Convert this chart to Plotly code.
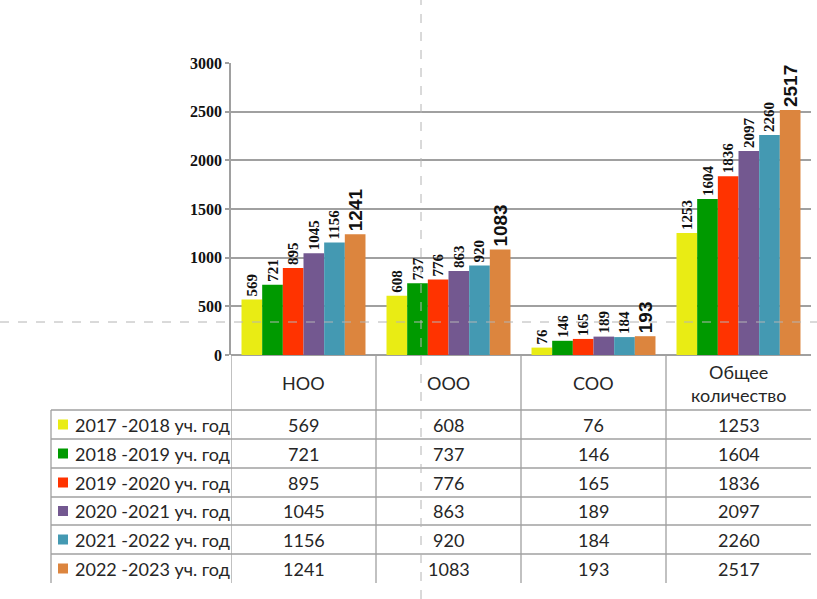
import plotly.graph_objects as go

# ---------------- data ----------------
categories = ["НОО", "ООО", "СОО", "Общее количество"]
header_labels = ["НОО", "ООО", "СОО", "Общее<br>количество"]
series_names = [
    "2017 -2018 уч. год",
    "2018 -2019 уч. год",
    "2019 -2020 уч. год",
    "2020 -2021 уч. год",
    "2021 -2022 уч. год",
    "2022 -2023 уч. год",
]
v2017_2018 = [569, 608, 76, 1253]
v2018_2019 = [721, 737, 146, 1604]
v2019_2020 = [895, 776, 165, 1836]
v2020_2021 = [1045, 863, 189, 2097]
v2021_2022 = [1156, 920, 184, 2260]
v2022_2023 = [1241, 1083, 193, 2517]
series_values = [v2017_2018, v2018_2019, v2019_2020, v2020_2021, v2021_2022, v2022_2023]
colors = ["#E9EC14", "#009A00", "#FF3300", "#735890", "#4499B2", "#DC853E"]
y_ticks = [0, 500, 1000, 1500, 2000, 2500, 3000]

# ---------------- geometry (pixels) ----------------
W, H = 817, 599
PLOT_L, PLOT_R = 231, 811
PLOT_T, PLOT_B = 63, 355
TABLE_L = 51
ROW_EDGES = [410, 439, 468, 497, 525, 554, 583]
GRID = "#A0A0A0"
TXT = "#262626"
TFONT = "Lato"
TSIZE = 18


def px(x):
    return x / W


def py(y):
    return 1 - y / H


fig = go.Figure()
for i, (name, vals) in enumerate(zip(series_names, series_values)):
    last = i == len(series_names) - 1
    fig.add_trace(go.Bar(
        x=categories, y=vals, name=name,
        marker=dict(color=colors[i], line=dict(width=0)),
        text=[str(v) for v in vals], textposition="outside", textangle=-90,
        constraintext="none", cliponaxis=False,
        textfont=dict(
            family="Liberation Sans" if last else "Liberation Serif",
            size=19 if last else 15, weight="bold", color="#111111"),
        hoverinfo="x+y+name",
    ))

shapes = []
annotations = []

# table: horizontal row lines
for y in ROW_EDGES[:-1]:
    shapes.append(dict(type="line", xref="paper", yref="paper",
                       x0=px(TABLE_L), x1=px(PLOT_R), y0=py(y), y1=py(y),
                       line=dict(color=GRID, width=1.3)))
# left border of legend column
shapes.append(dict(type="line", xref="paper", yref="paper",
                   x0=px(TABLE_L), x1=px(TABLE_L), y0=py(ROW_EDGES[0]), y1=py(ROW_EDGES[-1]),
                   line=dict(color=GRID, width=1.3)))
# vertical column separators (category boundaries, via x axis)
for b in [-0.5, 0.5, 1.5, 2.5]:
    shapes.append(dict(type="line", xref="x", yref="paper",
                       x0=b, x1=b, y0=py(PLOT_B), y1=py(ROW_EDGES[-1]),
                       line=dict(color=GRID, width=1.3)))

# header labels
for j, lab in enumerate(header_labels):
    annotations.append(dict(xref="x", yref="paper", x=j, y=py(383),
                            text=lab, showarrow=False, xanchor="center", yanchor="middle",
                            font=dict(family=TFONT, size=TSIZE, color=TXT)))

# table rows
for i, (name, vals) in enumerate(zip(series_names, series_values)):
    yc = (ROW_EDGES[i] + ROW_EDGES[i + 1]) / 2
    shapes.append(dict(type="rect", xref="paper", yref="paper",
                       x0=px(58), x1=px(68), y0=py(yc - 5), y1=py(yc + 5),
                       fillcolor=colors[i], line=dict(width=0)))
    annotations.append(dict(xref="paper", yref="paper", x=px(73), y=py(yc),
                            text=name, showarrow=False, xanchor="left", yanchor="middle",
                            font=dict(family=TFONT, size=TSIZE, color=TXT)))
    for j, v in enumerate(vals):
        annotations.append(dict(xref="x", yref="paper", x=j, y=py(yc),
                                text=str(v), showarrow=False, xanchor="center", yanchor="middle",
                                font=dict(family=TFONT, size=TSIZE, color=TXT)))

# dashed crosshair guides
shapes.append(dict(type="line", xref="paper", yref="paper", x0=px(421), x1=px(421), y0=0, y1=1,
                   line=dict(color="#B4B4B4", width=1, dash="dash"), layer="above"))
shapes.append(dict(type="line", xref="paper", yref="paper", x0=0, x1=1, y0=py(322), y1=py(322),
                   line=dict(color="#B4B4B4", width=1, dash="dash"), layer="above"))

fig.update_layout(
    width=W, height=H,
    margin=dict(l=0, r=0, t=0, b=0, autoexpand=False),
    paper_bgcolor="white", plot_bgcolor="white",
    barmode="group", bargap=0.145, bargroupgap=0,
    showlegend=False,
    shapes=shapes, annotations=annotations,
    xaxis=dict(domain=[px(PLOT_L), px(PLOT_R)], range=[-0.5, 3.5],
               showticklabels=False, showgrid=False, zeroline=False, showline=False, ticks=""),
    yaxis=dict(domain=[py(PLOT_B), py(PLOT_T)], range=[0, 3000], automargin=False,
               tickvals=y_ticks, ticktext=[str(t) for t in y_ticks],
               showgrid=True, gridcolor=GRID, gridwidth=1.5,
               zeroline=True, zerolinecolor=GRID, zerolinewidth=1.5,
               showline=True, linecolor=GRID, linewidth=1.5,
               ticks="outside", ticklen=4, tickcolor=GRID, tickwidth=1.5,
               tickfont=dict(family="Liberation Serif", size=16, weight="bold", color="#111111")),
)

fig.write_html(
    "out.html",
    config={"displayModeBar": False},
    post_script="document.body.style.margin='0';document.body.style.overflow='hidden';",
)
